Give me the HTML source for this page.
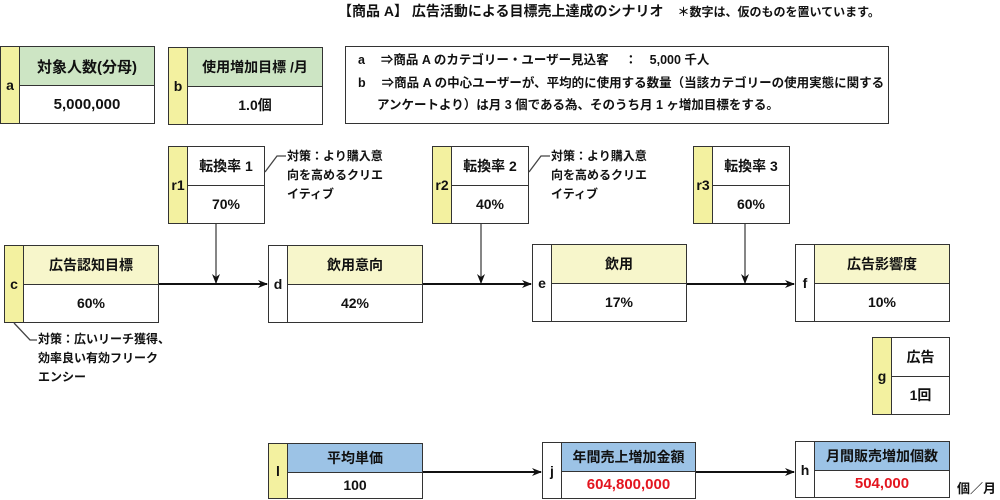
<!DOCTYPE html>
<html><head><meta charset="utf-8">
<style>
*{margin:0;padding:0;box-sizing:border-box}
body{width:1000px;height:500px;background:#fff;position:relative;overflow:hidden;font-family:"Liberation Sans","Noto Sans CJK JP",sans-serif;font-weight:bold;color:#111}
.bx{position:absolute;border:1.5px solid #333;background:#fff}
.lt{position:absolute;left:0;top:0;bottom:0;width:19px;border-right:1.5px solid #333;display:flex;align-items:center;justify-content:center;font-size:14px}
.hd{position:absolute;left:19px;right:0;top:0;border-bottom:1.5px solid #333;display:flex;align-items:center;justify-content:center;font-size:14px}
.vl{position:absolute;left:19px;right:0;bottom:0;display:flex;align-items:center;justify-content:center;font-size:14px}
.y{background:#f3f1a0}.g{background:#cde5c4}.ly{background:#f7f6cb}.b{background:#9cc3e6}
.red{color:#e3151f}
.t{position:absolute;font-size:12px;line-height:19px;white-space:nowrap;font-weight:bold}
svg{position:absolute;left:0;top:0}
</style></head><body>
<div class="t" style="left:338px;top:2px;font-size:14px">【商品 A】 広告活動による目標売上達成のシナリオ　<span style="font-size:12px">＊数字は、仮のものを置いています。</span></div>

<div class="bx" style="left:0;top:46px;width:155px;height:78px"><div class="lt y">a</div><div class="hd g" style="height:39px;font-size:15px">対象人数(分母)</div><div class="vl" style="height:38px;font-size:15px">5,000,000</div></div>
<div class="bx" style="left:168px;top:47px;width:155px;height:78px"><div class="lt y">b</div><div class="hd g" style="height:39px">使用増加目標 /月</div><div class="vl" style="height:38px">1.0個</div></div>

<div class="bx" style="left:345px;top:46px;width:544px;height:78px"></div>
<div class="t" style="left:358px;top:50px;font-size:12.5px;line-height:21px">a　 ⇒商品 A のカテゴリー・ユーザー見込客　 ：　5,000 千人</div>
<div class="t" style="left:358px;top:73px;font-size:12.5px;line-height:21px">b　 ⇒商品 A の中心ユーザーが、平均的に使用する数量（当該カテゴリーの使用実態に関する</div>
<div class="t" style="left:377px;top:95px;font-size:12.5px;line-height:21px">アンケートより）は月 3 個である為、そのうち月 1 ヶ増加目標をする。</div>

<div class="bx" style="left:168px;top:146px;width:97px;height:78px"><div class="lt y">r1</div><div class="hd" style="height:39px">転換率 1</div><div class="vl" style="height:38px">70%</div></div>
<div class="bx" style="left:432px;top:146px;width:97px;height:78px"><div class="lt y">r2</div><div class="hd" style="height:39px">転換率 2</div><div class="vl" style="height:38px">40%</div></div>
<div class="bx" style="left:693px;top:146px;width:97px;height:78px"><div class="lt y">r3</div><div class="hd" style="height:39px">転換率 3</div><div class="vl" style="height:38px">60%</div></div>

<div class="t" style="left:287px;top:147px">対策：より購入意<br>向を高めるクリエ<br>イティブ</div>
<div class="t" style="left:551px;top:147px">対策：より購入意<br>向を高めるクリエ<br>イティブ</div>

<div class="bx" style="left:4px;top:245px;width:155px;height:78px"><div class="lt y">c</div><div class="hd ly" style="height:39px">広告認知目標</div><div class="vl" style="height:38px">60%</div></div>
<div class="bx" style="left:268px;top:245px;width:155px;height:78px"><div class="lt">d</div><div class="hd ly" style="height:39px">飲用意向</div><div class="vl" style="height:38px">42%</div></div>
<div class="bx" style="left:532px;top:244px;width:155px;height:78px"><div class="lt">e</div><div class="hd ly" style="height:39px">飲用</div><div class="vl" style="height:38px">17%</div></div>
<div class="bx" style="left:795px;top:244px;width:155px;height:78px"><div class="lt">f</div><div class="hd ly" style="height:39px">広告影響度</div><div class="vl" style="height:38px">10%</div></div>

<div class="t" style="left:38px;top:330px">対策：広いリーチ獲得、<br>効率良い有効フリーク<br>エンシー</div>

<div class="bx" style="left:872px;top:337px;width:78px;height:78px"><div class="lt y">g</div><div class="hd" style="height:39px">広告</div><div class="vl" style="height:38px">1回</div></div>

<div class="bx" style="left:268px;top:443px;width:155px;height:56px"><div class="lt y">l</div><div class="hd b" style="height:29px">平均単価</div><div class="vl" style="height:27px">100</div></div>
<div class="bx" style="left:542px;top:442px;width:154px;height:57px"><div class="lt">j</div><div class="hd b" style="height:29px">年間売上増加金額</div><div class="vl red" style="height:27px;font-size:15px">604,800,000</div></div>
<div class="bx" style="left:795px;top:441px;width:155px;height:57px"><div class="lt">h</div><div class="hd b" style="height:29px">月間販売増加個数</div><div class="vl red" style="height:27px;font-size:15px">504,000</div></div>
<div class="t" style="left:957px;top:479px;font-size:13px">個／月</div>

<svg width="1000" height="500">
<defs><marker id="ar" markerWidth="10" markerHeight="8" refX="9" refY="4" orient="auto" markerUnits="userSpaceOnUse"><path d="M0,0 L10,4 L0,8 L3,4 Z" fill="#111"/></marker></defs>
<g stroke="#111" stroke-width="2" fill="none">
<line x1="159" y1="284" x2="267" y2="284" marker-end="url(#ar)"/>
<line x1="423" y1="284" x2="531" y2="284" marker-end="url(#ar)"/>
<line x1="687" y1="284" x2="794" y2="284" marker-end="url(#ar)"/>
<line x1="423" y1="472" x2="541" y2="472" marker-end="url(#ar)"/>
<line x1="696" y1="472" x2="794" y2="472" marker-end="url(#ar)"/>
</g>
<g stroke="#444" stroke-width="1.3" fill="none">
<line x1="216" y1="224" x2="216" y2="283" marker-end="url(#ar)"/>
<line x1="481" y1="224" x2="481" y2="283" marker-end="url(#ar)"/>
<line x1="745" y1="224" x2="745" y2="283" marker-end="url(#ar)"/>
<polyline points="265,172 277,156 286,156"/>
<polyline points="529,172 541,156 550,156"/>
<polyline points="14,323 30,340 37,340"/>
</g>
</svg>
</body></html>
